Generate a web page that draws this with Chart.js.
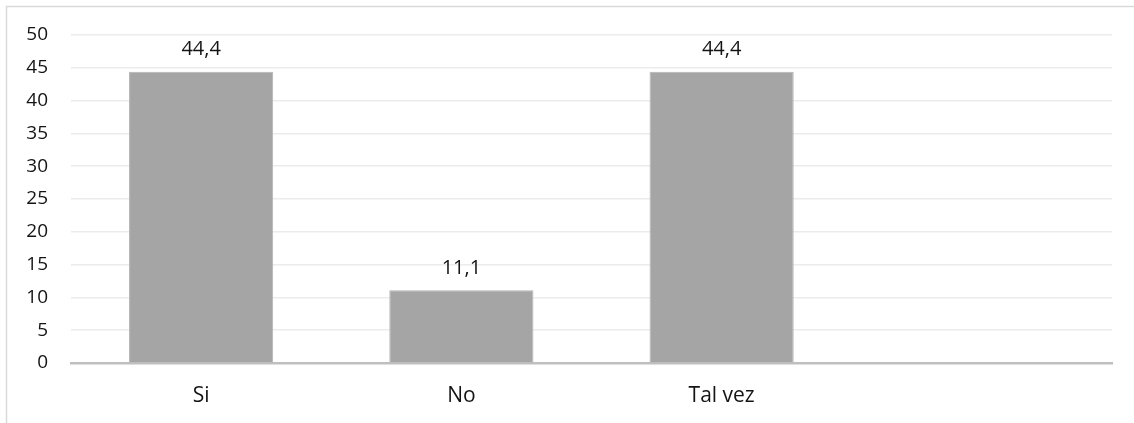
<!DOCTYPE html>
<html>
<head>
<meta charset="utf-8">
<style>
  html, body { margin: 0; padding: 0; background: #ffffff; }
  #wrap { width: 1134px; height: 423px; position: relative; }
</style>
<script src="https://cdn.jsdelivr.net/npm/chart.js@4/dist/chart.umd.min.js"></script>
</head>
<body>
<div id="wrap"><canvas id="chart" width="1134" height="423"></canvas></div>
<script>
// Categories and values (percent of responses)
const categories = ['Si', 'No', 'Tal vez', ''];
const values = [44.4, 11.1, 44.4, null];
const yTicksMin = 0;
const yTicksMax = 50;
const yTicksStep = 5;

const textColor = '#141414';

// Thin frame around the chart area
const framePlugin = {
  id: 'frame',
  beforeDraw(chart) {
    const ctx = chart.ctx;
    ctx.save();
    ctx.fillStyle = '#ffffff';
    ctx.fillRect(0, 0, chart.width, chart.height);
    ctx.strokeStyle = '#d9d9d9';
    ctx.lineWidth = 1.5;
    ctx.strokeRect(6.5, 6.5, chart.width + 20, chart.height + 20);
    ctx.restore();
  }
};

// Value labels above each bar, written with a decimal comma
const valueLabels = {
  id: 'valueLabels',
  afterDatasetsDraw(chart) {
    const ctx = chart.ctx;
    const meta = chart.getDatasetMeta(0);
    const data = chart.data.datasets[0].data;
    ctx.save();
    ctx.font = '20px "Open Sans"';
    ctx.fillStyle = textColor;
    ctx.textAlign = 'center';
    ctx.textBaseline = 'middle';
    meta.data.forEach((bar, i) => {
      const v = data[i];
      if (v === null || v === undefined) return;
      ctx.fillText(String(v).replace('.', ','), bar.x, bar.y - 22);
    });
    ctx.restore();
  }
};

new Chart(document.getElementById('chart'), {
  type: 'bar',
  data: {
    labels: categories,
    datasets: [{
      data: values,
      backgroundColor: '#a5a5a5',
      borderColor: '#b3b3b3',
      borderWidth: 1,
      categoryPercentage: 1,
      barPercentage: 0.554
    }]
  },
  options: {
    responsive: false,
    animation: false,
    devicePixelRatio: 1,
    layout: { padding: { top: 35, right: 22, left: 0, bottom: 0 } },
    plugins: {
      legend: { display: false },
      tooltip: { enabled: false },
      title: { display: false }
    },
    scales: {
      x: {
        grid: { display: false, drawTicks: false },
        border: { display: true, color: '#bfbfbf', width: 2.5 },
        ticks: {
          color: textColor,
          font: { family: 'Open Sans', size: 21 },
          padding: 20,
          maxRotation: 0,
          autoSkip: false
        },
        afterFit(scale) { scale.height = 60; }
      },
      y: {
        min: yTicksMin,
        max: yTicksMax,
        grid: { color: '#ececec', lineWidth: 1.5, drawTicks: false },
        border: { display: false },
        ticks: {
          stepSize: yTicksStep,
          color: textColor,
          font: { family: 'Open Sans', size: 19 },
          padding: 23
        },
        afterFit(scale) { scale.width = 71; }
      }
    }
  },
  plugins: [framePlugin, valueLabels]
});
</script>
</body>
</html>
